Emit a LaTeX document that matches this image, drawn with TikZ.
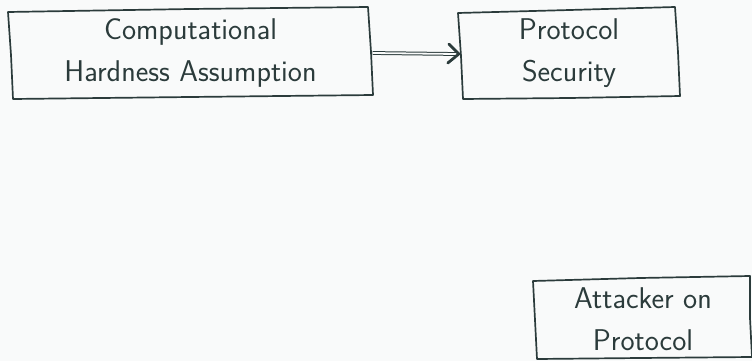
\documentclass[tikz,border=0pt]{standalone}
\usetikzlibrary{arrows.meta}
\definecolor{ink}{HTML}{2B3B3B}
\definecolor{paper}{HTML}{F9FAFA}
\begin{document}
\begin{tikzpicture}[x=1pt,y=-1pt,
  label/.style={inner sep=0pt, minimum width=#1, minimum height=88pt, align=center,
    text=ink, font=\fontsize{30}{42}\selectfont\sffamily},
  sketch/.style={draw=ink, line width=1.7pt, line join=round, line cap=round},
  shaft/.style={draw=ink, line width=1pt, double=paper, double distance=1.8pt},
  barb/.style={draw=ink, line width=2.8pt, line cap=round, line join=round}]
  % canvas
  \fill[paper] (0,0) rectangle (752,361);
  \useasboundingbox (0,0) rectangle (752,361);

  % text blocks
  \node[label=362pt] (hard) at (190.5,53) {Computational\\Hardness Assumption};
  \node[label=218pt] (sec)  at (569,53) {Protocol\\Security};
  \node[label=216pt] (att)  at (643,319) {Attacker on\\Protocol};

  % hand-drawn outlines
  \draw[sketch] (8,12) -- (190,9) -- (368,7) -- (371,52) -- (373,95)
     -- (190,97) -- (13,99) -- (11,55) -- cycle;
  \draw[sketch] (458,13) -- (570,10) -- (675,7) -- (678,52) -- (680,96)
     -- (570,98) -- (463,99) -- (461,56) -- cycle;
  \draw[sketch] (533,281) -- (640,278) -- (750,276) -- (750,318) -- (752,357)
     -- (640,358) -- (537,359) -- (535,320) -- cycle;

  % implication arrow: double shaft ending in a heavy open barb
  \coordinate (tip) at ([xshift=-1pt,yshift=-1pt]sec.west);
  \draw[shaft] (hard.east) ++(1,0) -- ([xshift=-3pt]tip);
  \draw[barb] ([shift={(-11pt,-9pt)}]tip) -- (tip) -- ([shift={(-10pt,10pt)}]tip);
\end{tikzpicture}
\end{document}
